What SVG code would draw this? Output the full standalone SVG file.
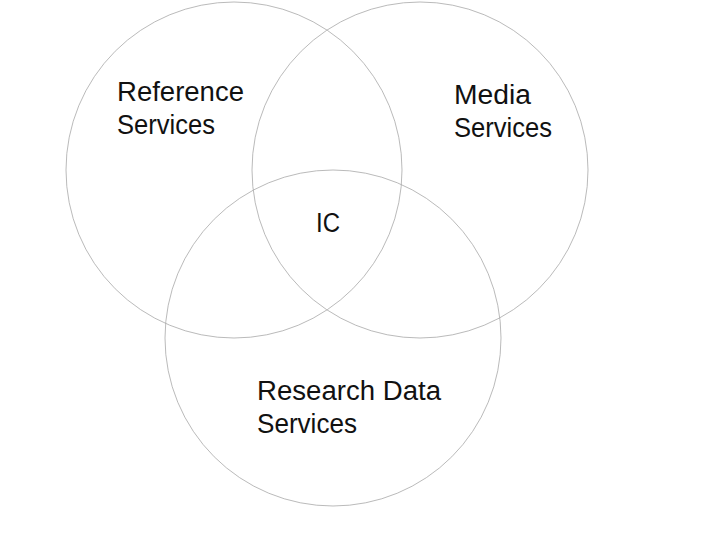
<svg xmlns="http://www.w3.org/2000/svg" width="720" height="540" viewBox="0 0 720 540">
<style>
.c{fill:none;stroke:#a8a8a8;stroke-width:0.8}
.t{font-family:"Liberation Sans",Arial,sans-serif;font-size:27px;fill:#111}
</style>
<rect width="720" height="540" fill="#fff"/>
<g id="reference">
<circle class="c" cx="234" cy="170" r="168"/>
<text class="t" x="117" y="101" textLength="127" lengthAdjust="spacingAndGlyphs">Reference</text>
<text class="t" x="117" y="134" textLength="98" lengthAdjust="spacingAndGlyphs">Services</text>
</g>
<g id="media">
<circle class="c" cx="420" cy="170" r="168"/>
<text class="t" x="454" y="104" textLength="77" lengthAdjust="spacingAndGlyphs">Media</text>
<text class="t" x="454" y="137" textLength="98" lengthAdjust="spacingAndGlyphs">Services</text>
</g>
<g id="research">
<circle class="c" cx="333" cy="338" r="168"/>
<text class="t" x="257" y="400" textLength="184" lengthAdjust="spacingAndGlyphs">Research Data</text>
<text class="t" x="257" y="433" textLength="100" lengthAdjust="spacingAndGlyphs">Services</text>
</g>
<g id="ic">
<text class="t" x="316" y="232" textLength="24" lengthAdjust="spacingAndGlyphs">IC</text>
</g>
<g id="connectors"></g>
</svg>
